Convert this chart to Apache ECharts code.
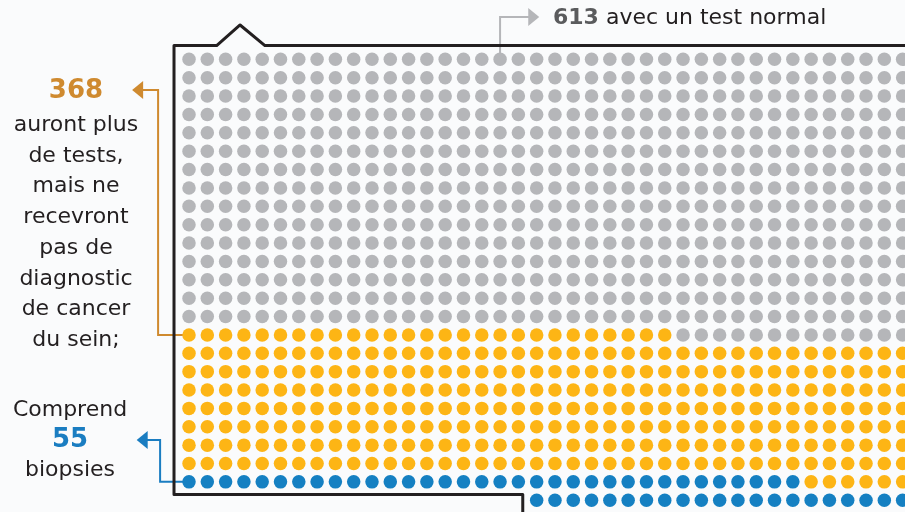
<!DOCTYPE html>
<html>
<head>
<meta charset="utf-8">
<script src="https://cdn.jsdelivr.net/npm/echarts@6/dist/echarts.min.js"></script>
<style>
  html, body { margin: 0; padding: 0; background: #fafbfc; }
  #chart { width: 905px; height: 512px; }
</style>
</head>
<body>
<div id="chart"></div>
<script>
// 1000 femmes, 40 points par rangée, remplies depuis le bas à gauche
const total = 1000;
const normalTests = 613;
const moreTests = 368;
const biopsies = 55;
const perRow = 40;

const categories = ['Cancer', 'Biopsies', 'Autres tests', 'Test normal'];
const counts = [total - normalTests - moreTests, biopsies, moreTests - biopsies, normalTests];
const dotColors = [null, '#1580c2', '#fdb515', '#b5b6b9'];

const chart = echarts.init(document.getElementById('chart'));

// position of the n-th woman in the grid (col, row)
function cell(i) {
  const rows = Math.ceil(total / perRow);
  return [i % perRow, rows - 1 - Math.floor(i / perRow)];
}

var series = [];
var start = 0;
categories.forEach(function (name, k) {
  var pts = [];
  for (var i = start; i < start + counts[k]; i++) pts.push(cell(i));
  start += counts[k];
  if (!dotColors[k]) return;   // cancer group sits outside this frame
  series.push({
    name: name,
    type: 'scatter',
    data: pts,
    symbolSize: 13.5,
    itemStyle: { color: dotColors[k], opacity: 1 },
    silent: true,
    z: 3
  });
});

// frame around the grid
series.push({
  type: 'lines',
  coordinateSystem: 'cartesian2d',
  polyline: true,
  silent: true,
  z: 2,
  lineStyle: { color: '#231f20', width: 3, opacity: 1, join: 'round', cap: 'round' },
  data: [{ coords: [[40, -0.75], [4.15, -0.75], [2.79, -1.87], [1.51, -0.75], [-0.82, -0.75],
                    [-0.82, 23.69], [18.24, 23.69], [18.24, 24.9]] }]
});

// pointer arrows: elbow path, head drawn as a rotated triangle at the end
var heads = [];
function arrow(coords, color, rot) {
  heads.push({ value: coords[coords.length - 1], symbolRotate: rot, itemStyle: { color: color, opacity: 1 } });
  series.push({
    type: 'lines',
    coordinateSystem: 'cartesian2d',
    polyline: true,
    silent: true,
    z: 1,
    lineStyle: { color: color, width: 2, opacity: 1 },
    data: [{ coords: coords }]
  });
}
arrow([[0, 15], [-1.69, 15], [-1.69, 1.67], [-2.81, 1.67]], '#cf8a2f', 90);
arrow([[0, 23], [-1.58, 23], [-1.58, 20.72], [-2.56, 20.72]], '#1a7dc1', 90);
arrow([[17, 0], [17, -2.3], [18.84, -2.3]], '#b5b6b9', -90);
series.push({
  type: 'scatter',
  symbol: 'triangle',
  symbolSize: [18, 11],
  silent: true,
  z: 1,
  data: heads
});

const txt = '#231f20';
const font = '"DejaVu Sans", sans-serif';

option = {
  backgroundColor: '#fafbfc',
  animation: false,
  grid: { left: 0, right: 0, top: 0, bottom: 0 },
  xAxis: { type: 'value', min: -10.33, max: 39.13, show: false },
  yAxis: { type: 'value', min: -3.23, max: 24.64, inverse: true, show: false },
  series: series,
  graphic: [
    {
      type: 'text', x: 76, y: 91,
      style: { text: String(moreTests), fill: '#cf8a2f', font: 'bold 26px ' + font, align: 'center', verticalAlign: 'middle' }
    },
    {
      type: 'text', x: 76, y: 110,
      style: {
        text: 'auront plus\nde tests,\nmais ne\nrecevront\npas de\ndiagnostic\nde cancer\ndu sein;',
        fill: txt, font: '22px ' + font, lineHeight: 30.7, align: 'center', verticalAlign: 'top'
      }
    },
    {
      type: 'text', x: 70, y: 410,
      style: { text: 'Comprend', fill: txt, font: '22px ' + font, align: 'center', verticalAlign: 'middle' }
    },
    {
      type: 'text', x: 70, y: 440,
      style: { text: String(biopsies), fill: '#1a7dc1', font: 'bold 26px ' + font, align: 'center', verticalAlign: 'middle' }
    },
    {
      type: 'text', x: 70, y: 470,
      style: { text: 'biopsies', fill: txt, font: '22px ' + font, align: 'center', verticalAlign: 'middle' }
    },
    {
      type: 'text', x: 553, y: 18,
      style: {
        text: '{b|' + normalTests + '} avec un test normal',
        fill: txt, font: '22px ' + font, align: 'left', verticalAlign: 'middle',
        rich: { b: { font: 'bold 22px ' + font, fill: '#5a5b5d' } }
      }
    }
  ]
};

option && chart.setOption(option);
</script>
</body>
</html>
